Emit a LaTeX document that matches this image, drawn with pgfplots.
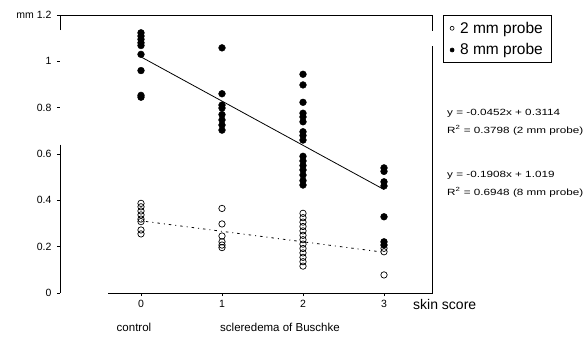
\documentclass[border=0pt]{standalone}
\usepackage{fontspec}
\setmainfont{Liberation Sans}
\usepackage{pgfplots}
\pgfplotsset{compat=1.18}
\newcommand{\eqtext}[1]{\scalebox{1.3}[1]{\fontsize{9}{10}\selectfont #1}}
\begin{document}
\begin{tikzpicture}
\path[use as bounding box] (-141pt,-45pt) rectangle (444pt,293pt);
\begin{axis}[
  x=81pt, y=231.7pt, anchor=origin, at={(0pt,0pt)},
  xmin=-1, xmax=3.6, ymin=0, ymax=1.2,
  axis lines=left, axis line style={draw=none},
  clip=false,
  xtick={0,1,2,3}, xticklabels={0,1,2,3},
  ytick={0,0.2,0.4,0.6,0.8,1,1.2},
  yticklabels={0,0.2,0.4,0.6,0.8,1,mm 1.2},
  tick align=outside, major tick length=3pt,
  tick style={black, line width=0.8pt},
  ticklabel style={font=\fontsize{10.5}{11}\selectfont},
  yticklabel style={xshift=-2pt},
  xticklabel style={yshift=-1pt},
  legend style={at={(1.027,1)}, anchor=north west, draw=black, line width=0.9pt,
    inner xsep=7pt, inner ysep=4.5pt, row sep=5pt,
    font=\fontsize{15.5}{16}\selectfont, cells={anchor=west}},
  legend image code/.code={\draw[mark size=2pt, line width=0.6pt] plot coordinates {(0.1cm,0cm)};},
]
% 2 mm probe (open)
\addplot[only marks, mark=o, mark size=3.2pt, black, line width=0.7pt] coordinates {
 (0,0.387) (0,0.372) (0,0.354) (0,0.337) (0,0.319) (0,0.308) (0,0.272) (0,0.255)
 (1,0.365) (1,0.298) (1,0.246) (1,0.221) (1,0.207) (1,0.196)
 (2,0.344) (2,0.325) (2,0.306) (2,0.287) (2,0.268) (2,0.249) (2,0.230) (2,0.211)
 (2,0.192) (2,0.173) (2,0.154) (2,0.135) (2,0.116)
 (3,0.193) (3,0.178) (3,0.078)
};
\addlegendentry{\hspace{4pt}2 mm probe}
% 8 mm probe (filled)
\addplot[only marks, mark=*, mark size=3.4pt, black] coordinates {
 (0,1.123) (0,1.109) (0,1.095) (0,1.080) (0,1.068) (0,1.030) (0,0.960) (0,0.853) (0,0.845)
 (1,1.058) (1,0.860) (1,0.811) (1,0.798) (1,0.770) (1,0.747) (1,0.725) (1,0.703)
 (2,0.944) (2,0.898) (2,0.823) (2,0.776) (2,0.760) (2,0.739) (2,0.696) (2,0.680) (2,0.660)
 (2,0.590) (2,0.570) (2,0.550) (2,0.531) (2,0.509) (2,0.485) (2,0.466)
 (3,0.540) (3,0.525) (3,0.480) (3,0.462) (3,0.329) (3,0.221) (3,0.207)
};
\addlegendentry{\hspace{4pt}8 mm probe}
% regression lines
\addplot[forget plot, black, line width=0.8pt] coordinates {(0,1.019) (3,0.4466)};
\addplot[forget plot, black, line width=0.8pt, dash pattern={on 1pt off 4pt on 2.5pt off 4pt}] coordinates {(0,0.3114) (3,0.1758)};
% frame
\draw[line width=0.9pt] (axis cs:-1,1.135) -- (axis cs:-1,1.2) -- (axis cs:3.6,1.2) -- (axis cs:3.6,1.13);
\draw[line width=0.9pt] (axis cs:3.6,1.065) -- (axis cs:3.6,0) -- (axis cs:-0.41,0);
\draw[line width=0.9pt] (axis cs:-1,0.64) -- (axis cs:-1,0);
\end{axis}
\begin{scope}[every node/.style={inner sep=0pt}]
\node[anchor=west] at (306pt,180pt) {\eqtext{y = -0.0452x + 0.3114}};
\node[anchor=west] at (306pt,163pt) {\eqtext{R\textsuperscript{2} = 0.3798 (2 mm probe)}};
\node[anchor=west] at (306pt,118pt) {\eqtext{y = -0.1908x + 1.019}};
\node[anchor=west] at (306pt,101pt) {\eqtext{R\textsuperscript{2} = 0.6948 (8 mm probe)}};
\node[anchor=west, font=\fontsize{14}{15}\selectfont] at (272pt,-11pt) {skin score};
\node[font=\fontsize{11.5}{12}\selectfont] at (-7pt,-34pt) {control};
\node[anchor=west, font=\fontsize{11.5}{12}\selectfont] at (79pt,-34pt) {scleredema of Buschke};
\end{scope}
\end{tikzpicture}
\end{document}
